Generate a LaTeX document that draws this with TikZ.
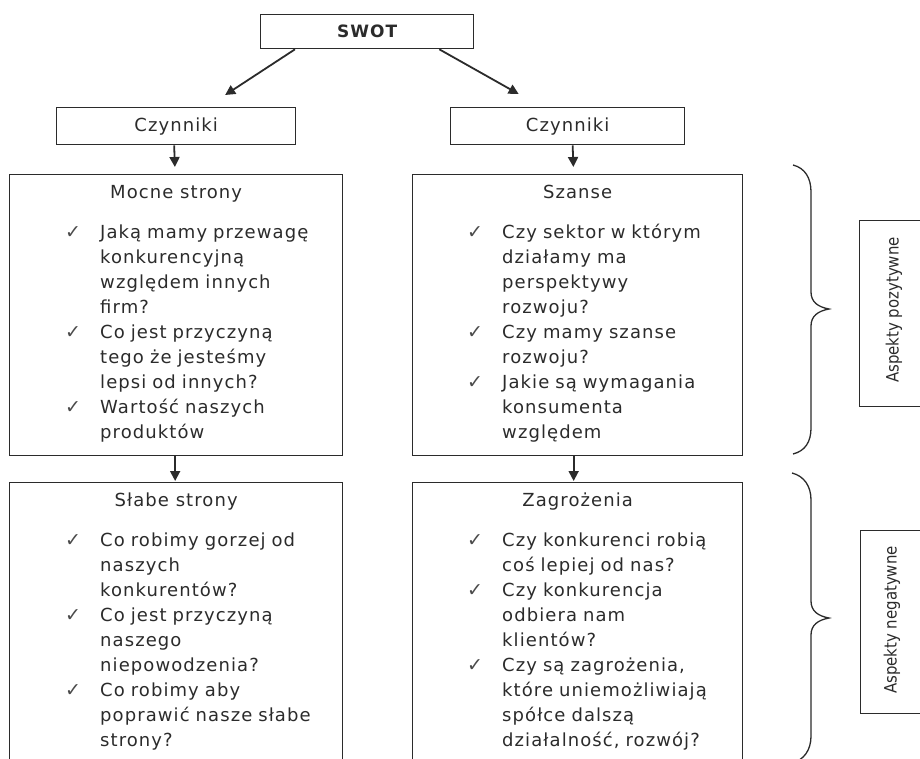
\documentclass[tikz,border=0pt]{standalone}
\usepackage{fontspec}
\setmainfont{DejaVu Sans}[LetterSpace=6.0]
\newfontfamily\plainfont{DejaVu Sans}
\usetikzlibrary{arrows.meta,calc}
\definecolor{ink}{HTML}{2B2B2B}
\newcommand{\chk}{\makebox[35pt][l]{\raisebox{0pt}[0pt][0pt]{\plainfont\fontsize{19}{19}\selectfont\color{ink!85}✓}}}
\newcommand{\ind}{\hspace*{35pt}}
\newcommand{\firststrut}{\rule{0pt}{14pt}}
\begin{document}
\begin{tikzpicture}[x=1pt,y=-1pt,
  box/.style={draw=ink, line width=1.3pt, inner sep=0pt, anchor=north west},
  lst/.style={anchor=north west, inner sep=0pt, align=left, text width=280pt,
              font=\fontsize{18}{25}\selectfont, text=ink},
  ttl/.style={anchor=base, inner sep=0pt, font=\fontsize{18}{22}\selectfont, text=ink},
  arr/.style={draw=ink, line width=1.8pt, -{Triangle[length=10pt,width=10pt]}},
  brc/.style={draw=ink, line width=1.3pt},
  asp/.style={rotate=90, inner sep=0pt, text=ink}]
\useasboundingbox (0,0) rectangle (920,758);
\clip (0,0) rectangle (920,758);
% top
\node[box, minimum width=213pt, minimum height=34pt] (swot) at (260,14) {};
\node[inner sep=0pt, text=ink, font=\fontsize{17}{17}\selectfont\bfseries] (swott) at (swot.center) {SWOT};
\node[box, minimum width=239pt, minimum height=37pt] (czl) at (56,107) {};
\node[inner sep=0pt, text=ink, font=\fontsize{18}{18}\selectfont] (czlt) at (czl.center) {Czynniki};
\node[box, minimum width=234pt, minimum height=37pt] (czr) at (450,107) {};
\node[inner sep=0pt, text=ink, font=\fontsize{18}{18}\selectfont] (czrt) at (czr.center) {Czynniki};
% main boxes
\node[box, minimum width=333pt, minimum height=281pt] (mocne) at (9,174) {};
\node[box, minimum width=330pt, minimum height=281pt] (szanse) at (412,174) {};
\node[box, minimum width=333pt, minimum height=300pt] (slabe) at (9,482) {};
\node[box, minimum width=330pt, minimum height=300pt] (zagr) at (412,482) {};
% titles
\node[ttl] (mocnet) at ([yshift=-24pt]mocne.north) {Mocne strony};
\node[ttl] (szanset) at ([yshift=-24pt]szanse.north) {Szanse};
\node[ttl] (slabet) at ([yshift=-24pt]slabe.north) {Słabe strony};
\node[ttl] (zagrt) at ([yshift=-24pt]zagr.north) {Zagrożenia};
% lists
\node[lst] (mocnel) at ([xshift=56pt,yshift=-50pt]mocne.north west) {%
\firststrut\chk Jaką mamy przewagę\\
\ind konkurencyjną\\
\ind względem innych\\
\ind firm?\\
\chk Co jest przyczyną\\
\ind tego że jesteśmy\\
\ind lepsi od innych?\\
\chk Wartość naszych\\
\ind produktów};
\node[lst] (szansel) at ([xshift=55pt,yshift=-50pt]szanse.north west) {%
\firststrut\chk Czy sektor w którym\\
\ind działamy ma\\
\ind perspektywy\\
\ind rozwoju?\\
\chk Czy mamy szanse\\
\ind rozwoju?\\
\chk Jakie są wymagania\\
\ind konsumenta\\
\ind względem};
\node[lst] (slabel) at ([xshift=56pt,yshift=-50pt]slabe.north west) {%
\firststrut\chk Co robimy gorzej od\\
\ind naszych\\
\ind konkurentów?\\
\chk Co jest przyczyną\\
\ind naszego\\
\ind niepowodzenia?\\
\chk Co robimy aby\\
\ind poprawić nasze słabe\\
\ind strony?};
\node[lst] (zagrl) at ([xshift=55pt,yshift=-50pt]zagr.north west) {%
\firststrut\chk Czy konkurenci robią\\
\ind coś lepiej od nas?\\
\chk Czy konkurencja\\
\ind odbiera nam\\
\ind klientów?\\
\chk Czy są zagrożenia,\\
\ind które uniemożliwiają\\
\ind spółce dalszą\\
\ind działalność, rozwój?};
% arrows
\draw[arr] ([xshift=35pt]swot.south west) -- ([xshift=49pt,yshift=12pt]czl.north);
\draw[arr] ([xshift=-35pt]swot.south east) -- ([xshift=-49pt,yshift=13pt]czr.north);
\draw[arr, shorten >=7pt] ([xshift=-2pt]czl.south) -- ([xshift=-1pt]mocne.north);
\draw[arr, shorten >=7pt] ([xshift=5pt]czr.south) -- ([xshift=-4pt]szanse.north);
\draw[arr, shorten >=1pt] ([xshift=-1pt]mocne.south) -- ([xshift=-1pt]slabe.north);
\draw[arr, shorten >=1pt] ([xshift=-4pt]szanse.south) -- ([xshift=-4pt]zagr.north);
% braces
\draw[brc] (793,165) .. controls (805,168) and (811,178) .. (811,192) -- (811,292)
  .. controls (811,302) and (818,307) .. (829,309)
  .. controls (818,311) and (811,316) .. (811,326) -- (811,428)
  .. controls (811,442) and (805,451) .. (793,454);
\draw[brc] (792,473) .. controls (804,476) and (811,486) .. (811,500) -- (811,601)
  .. controls (811,611) and (818,616) .. (829,618)
  .. controls (818,620) and (811,625) .. (811,635) -- (811,736)
  .. controls (811,750) and (804,760) .. (792,763);
% aspects
\node[box, minimum width=80pt, minimum height=186pt] (posbox) at (859,220) {};
\node[asp] (poslbl) at (894,310) {\plainfont\fontsize{17}{17}\selectfont\scalebox{0.88}[1]{Aspekty pozytywne}};
\node[box, minimum width=80pt, minimum height=183pt] (negbox) at (860,530) {};
\node[asp] (neglbl) at (892,620) {\plainfont\fontsize{17}{17}\selectfont\scalebox{0.88}[1]{Aspekty negatywne}};
\end{tikzpicture}
\end{document}
